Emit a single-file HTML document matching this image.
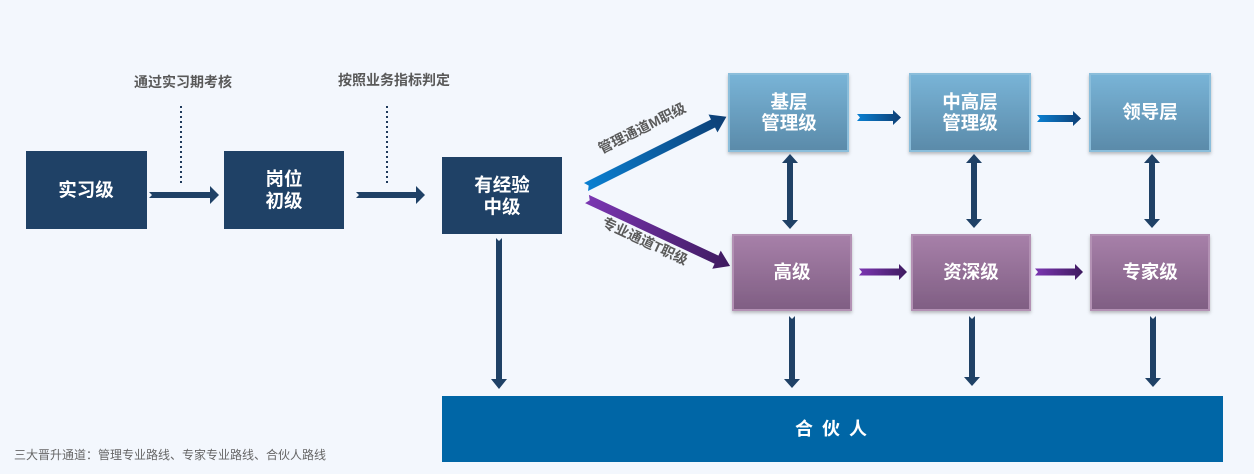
<!DOCTYPE html>
<html><head><meta charset="utf-8"><style>
html,body{margin:0;padding:0;background:#f3f7fd;}
svg{display:block;}
text{font-family:"Liberation Sans","Noto Sans CJK SC",sans-serif;}
.bx{font-size:18.5px;font-weight:bold;fill:#fff;text-anchor:middle;dominant-baseline:central;}
.lb{font-size:14px;font-weight:bold;fill:#595959;text-anchor:middle;dominant-baseline:central;}
.dl{font-size:14px;font-weight:bold;fill:#5a5a5a;text-anchor:middle;dominant-baseline:central;}
</style></head><body>
<svg width="1254" height="474" viewBox="0 0 1254 474" xmlns="http://www.w3.org/2000/svg">
<defs>
<linearGradient id="gb" x1="0" y1="0" x2="0" y2="1"><stop offset="0" stop-color="#79b4d7"/><stop offset="1" stop-color="#5a8aa9"/></linearGradient>
<linearGradient id="gp" x1="0" y1="0" x2="0" y2="1"><stop offset="0" stop-color="#a780a9"/><stop offset="1" stop-color="#7f5e83"/></linearGradient>
<linearGradient id="ab" x1="0" y1="0" x2="1" y2="0"><stop offset="0" stop-color="#0a80d2"/><stop offset="1" stop-color="#0d3e74"/></linearGradient>
<linearGradient id="ap" x1="0" y1="0" x2="1" y2="0"><stop offset="0" stop-color="#7b36b2"/><stop offset="1" stop-color="#3e1a5f"/></linearGradient>
<filter id="sh" x="-10%" y="-10%" width="120%" height="125%"><feDropShadow dx="0" dy="2" stdDeviation="1.5" flood-color="#000" flood-opacity="0.25"/></filter>
</defs>

<!-- top labels -->
<text class="lb" x="183" y="82">通过实习期考核</text>
<text class="lb" x="394" y="80">按照业务指标判定</text>
<line x1="181" y1="106" x2="181" y2="185" stroke="#1f3a5c" stroke-width="2" stroke-dasharray="2,3"/>
<line x1="387" y1="106" x2="387" y2="184" stroke="#1f3a5c" stroke-width="2" stroke-dasharray="2,3"/>

<!-- dark boxes -->
<rect x="26" y="151" width="121" height="78" fill="#1f4166"/>
<text class="bx" x="86" y="190">实习级</text>
<rect x="224" y="151" width="120" height="78" fill="#1f4166"/>
<text class="bx" x="284" y="179">岗位</text>
<text class="bx" x="284" y="201">初级</text>
<rect x="442" y="157" width="120" height="77" fill="#1f4166"/>
<text class="bx" x="502" y="185">有经验</text>
<text class="bx" x="502" y="207">中级</text>

<!-- dark horizontal arrows -->
<polygon points="149,192 210,192 210,186 219,195 210,204 210,198 149,198 152,195" fill="#1f4166"/>
<polygon points="356,192 416,192 416,186 425,195 416,204 416,198 356,198 359,195" fill="#1f4166"/>

<!-- down arrow from 有经验 -->
<polygon points="496,238 499,241 502,238 502,379 507,379 499,389 491,379 496,379" fill="#1f4166"/>

<!-- diagonal arrows -->
<g transform="translate(586,187) rotate(-26.57)">
<polygon points="0,-4.5 142,-4.5 142,-10 157,0 142,10 142,4.5 0,4.5 3,0" fill="url(#ab)"/>
</g>
<g transform="translate(587,199) rotate(25.1)">
<polygon points="0,-4.5 143,-4.5 143,-10 158,0 143,10 143,4.5 0,4.5 3,0" fill="url(#ap)"/>
</g>
<text class="dl" transform="translate(642,128) rotate(-26.6)">管理通道M职级</text>
<text class="dl" transform="translate(645,241) rotate(25.1)">专业通道T职级</text>

<!-- boxes -->
<g filter="url(#sh)">
<rect x="729" y="74" width="119" height="77" fill="url(#gb)" stroke="#8bbedb" stroke-width="2"/>
<rect x="910" y="74" width="120" height="77" fill="url(#gb)" stroke="#8bbedb" stroke-width="2"/>
<rect x="1090" y="74" width="120" height="77" fill="url(#gb)" stroke="#8bbedb" stroke-width="2"/>
<rect x="733" y="235" width="118" height="75" fill="url(#gp)" stroke="#b391b4" stroke-width="2"/>
<rect x="912" y="235" width="118" height="75" fill="url(#gp)" stroke="#b391b4" stroke-width="2"/>
<rect x="1091" y="235" width="118" height="75" fill="url(#gp)" stroke="#b391b4" stroke-width="2"/>
</g>
<text class="bx" x="789" y="102">基层</text>
<text class="bx" x="789" y="123">管理级</text>
<text class="bx" x="970" y="102">中高层</text>
<text class="bx" x="970" y="123">管理级</text>
<text class="bx" x="1150" y="112">领导层</text>
<text class="bx" x="792" y="272">高级</text>
<text class="bx" x="971" y="272">资深级</text>
<text class="bx" x="1150" y="272">专家级</text>

<!-- gradient horizontal arrows -->
<polygon points="857,114 893,114 893,110 901,117.5 893,125 893,121 857,121 860,117.5" fill="url(#ab)"/>
<polygon points="1037,115 1073,115 1073,111 1081,118.5 1073,126 1073,122 1037,122 1040,118.5" fill="url(#ab)"/>
<polygon points="859,268.5 899,268.5 899,264 907,272 899,280 899,275.5 859,275.5 862,272" fill="url(#ap)"/>
<polygon points="1035,268.5 1075,268.5 1075,264 1083,272 1075,280 1075,275.5 1035,275.5 1038,272" fill="url(#ap)"/>

<!-- vertical double arrows -->
<polygon points="790,154 798,163 793,163 793,220 798,220 790,229 782,220 787,220 787,163 782,163" fill="#1f4166"/>
<polygon points="974,154 982,163 977,163 977,219 982,219 974,228 966,219 971,219 971,163 966,163" fill="#1f4166"/>
<polygon points="1152,154 1160,163 1155,163 1155,219 1160,219 1152,228 1144,219 1149,219 1149,163 1144,163" fill="#1f4166"/>

<!-- down arrows to bar -->
<polygon points="789,316 792,319 795,316 795,379 800,379 792,388 784,379 789,379" fill="#1f4166"/>
<polygon points="969,316 972,319 975,316 975,377 980,377 972,386 964,377 969,377" fill="#1f4166"/>
<polygon points="1150,316 1153,319 1156,316 1156,378 1161,378 1153,387 1145,378 1150,378" fill="#1f4166"/>

<!-- partner bar -->
<rect x="442" y="396" width="781" height="66" fill="#0066a6"/>
<text x="832" y="429" fill="#fff" font-size="18" font-weight="bold" text-anchor="middle" dominant-baseline="central" letter-spacing="2">合 伙 人</text>

<!-- footer -->
<text x="14" y="455" fill="#666" font-size="12" dominant-baseline="central">三大晋升通道：管理专业路线、专家专业路线、合伙人路线</text>
</svg>
</body></html>
